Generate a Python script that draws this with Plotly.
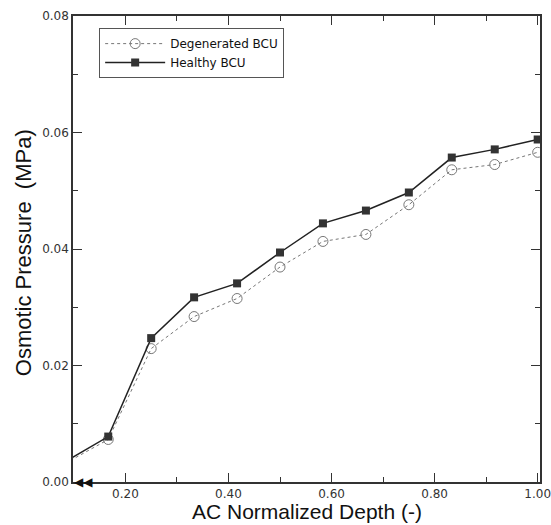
import plotly.graph_objects as go

depth = [0.0833, 0.1667, 0.25, 0.3333, 0.4167, 0.5, 0.5833, 0.6667, 0.75, 0.8333, 0.9167, 1.0]
degenerated = [0.0032, 0.0073, 0.0229, 0.0284, 0.0315, 0.0369, 0.0413, 0.0425, 0.0476, 0.0536, 0.0545, 0.0566]
healthy = [0.0035, 0.0078, 0.0247, 0.0317, 0.0341, 0.0394, 0.0444, 0.0466, 0.0497, 0.0557, 0.0571, 0.0588]

x_ticks = [0.2, 0.4, 0.6, 0.8, 1.0]
x_labels = ["0.20", "0.40", "0.60", "0.80", "1.00"]
y_ticks = [0.0, 0.02, 0.04, 0.06, 0.08]
y_labels = ["0.00", "0.02", "0.04", "0.06", "0.08"]

fig = go.Figure()
fig.add_trace(go.Scatter(
    x=depth, y=degenerated, name="Degenerated BCU", mode="lines+markers",
    line=dict(color="#777777", width=1, dash="dot"),
    marker=dict(symbol="circle-open", size=10, color="#777777", line=dict(width=1)),
))
fig.add_trace(go.Scatter(
    x=depth, y=healthy, name="Healthy BCU", mode="lines+markers",
    line=dict(color="#222222", width=1.5),
    marker=dict(symbol="square", size=8, color="#333333"),
))

axis_common = dict(
    showgrid=False, zeroline=False, showline=True, linecolor="#333333", linewidth=1.5,
    mirror="ticks", ticks="inside", ticklen=9, tickcolor="#333333", tickwidth=1,
    tickfont=dict(family="DejaVu Sans", size=12, color="#333333"),
    automargin=False, ticklabeloverflow="allow",
)

fig.update_xaxes(
    range=[0.0983, 1.0045], tickvals=x_ticks, ticktext=x_labels,
    minor=dict(dtick=0.1, tick0=0.1, ticks="inside", ticklen=5, tickcolor="#333333", showgrid=False),
    **axis_common,
)
fig.update_yaxes(
    range=[0, 0.08], tickvals=y_ticks, ticktext=y_labels,
    minor=dict(dtick=0.01, tick0=0, ticks="inside", ticklen=5, tickcolor="#333333", showgrid=False),
    **axis_common,
)

fig.add_annotation(
    x=0.5, y=0, xref="paper", yref="paper", text="AC Normalized Depth (-)", showarrow=False,
    xanchor="center", yanchor="middle", yshift=-29,
    font=dict(family="Liberation Sans, Arial", size=21, color="#111111"),
)
fig.add_annotation(
    x=0, y=0.491, xref="paper", yref="paper", text="Osmotic Pressure\u00a0\u00a0(MPa)", showarrow=False,
    textangle=-90, xanchor="center", yanchor="middle", xshift=-50,
    font=dict(family="Liberation Sans, Arial", size=22, color="#111111"),
)
fig.add_annotation(
    x=0, y=0, xref="paper", yref="paper", text="◀◀", showarrow=False,
    xanchor="left", yanchor="middle", xshift=-1,
    font=dict(family="DejaVu Sans", size=12, color="#111111"),
)

fig.update_layout(
    width=551, height=525,
    margin=dict(l=73, r=11, t=16, b=43, autoexpand=False),
    paper_bgcolor="white", plot_bgcolor="white",
    showlegend=True,
    legend=dict(
        x=0.056, y=0.974, xanchor="left", yanchor="top",
        bordercolor="#555555", borderwidth=1, bgcolor="white",
        font=dict(family="DejaVu Sans", size=12, color="#111111"),
        itemwidth=60, tracegroupgap=0,
    ),
)

fig.write_html(
    "out.html",
    config={"displayModeBar": False},
    post_script="document.body.style.margin='0';document.body.style.overflow='hidden';",
)
